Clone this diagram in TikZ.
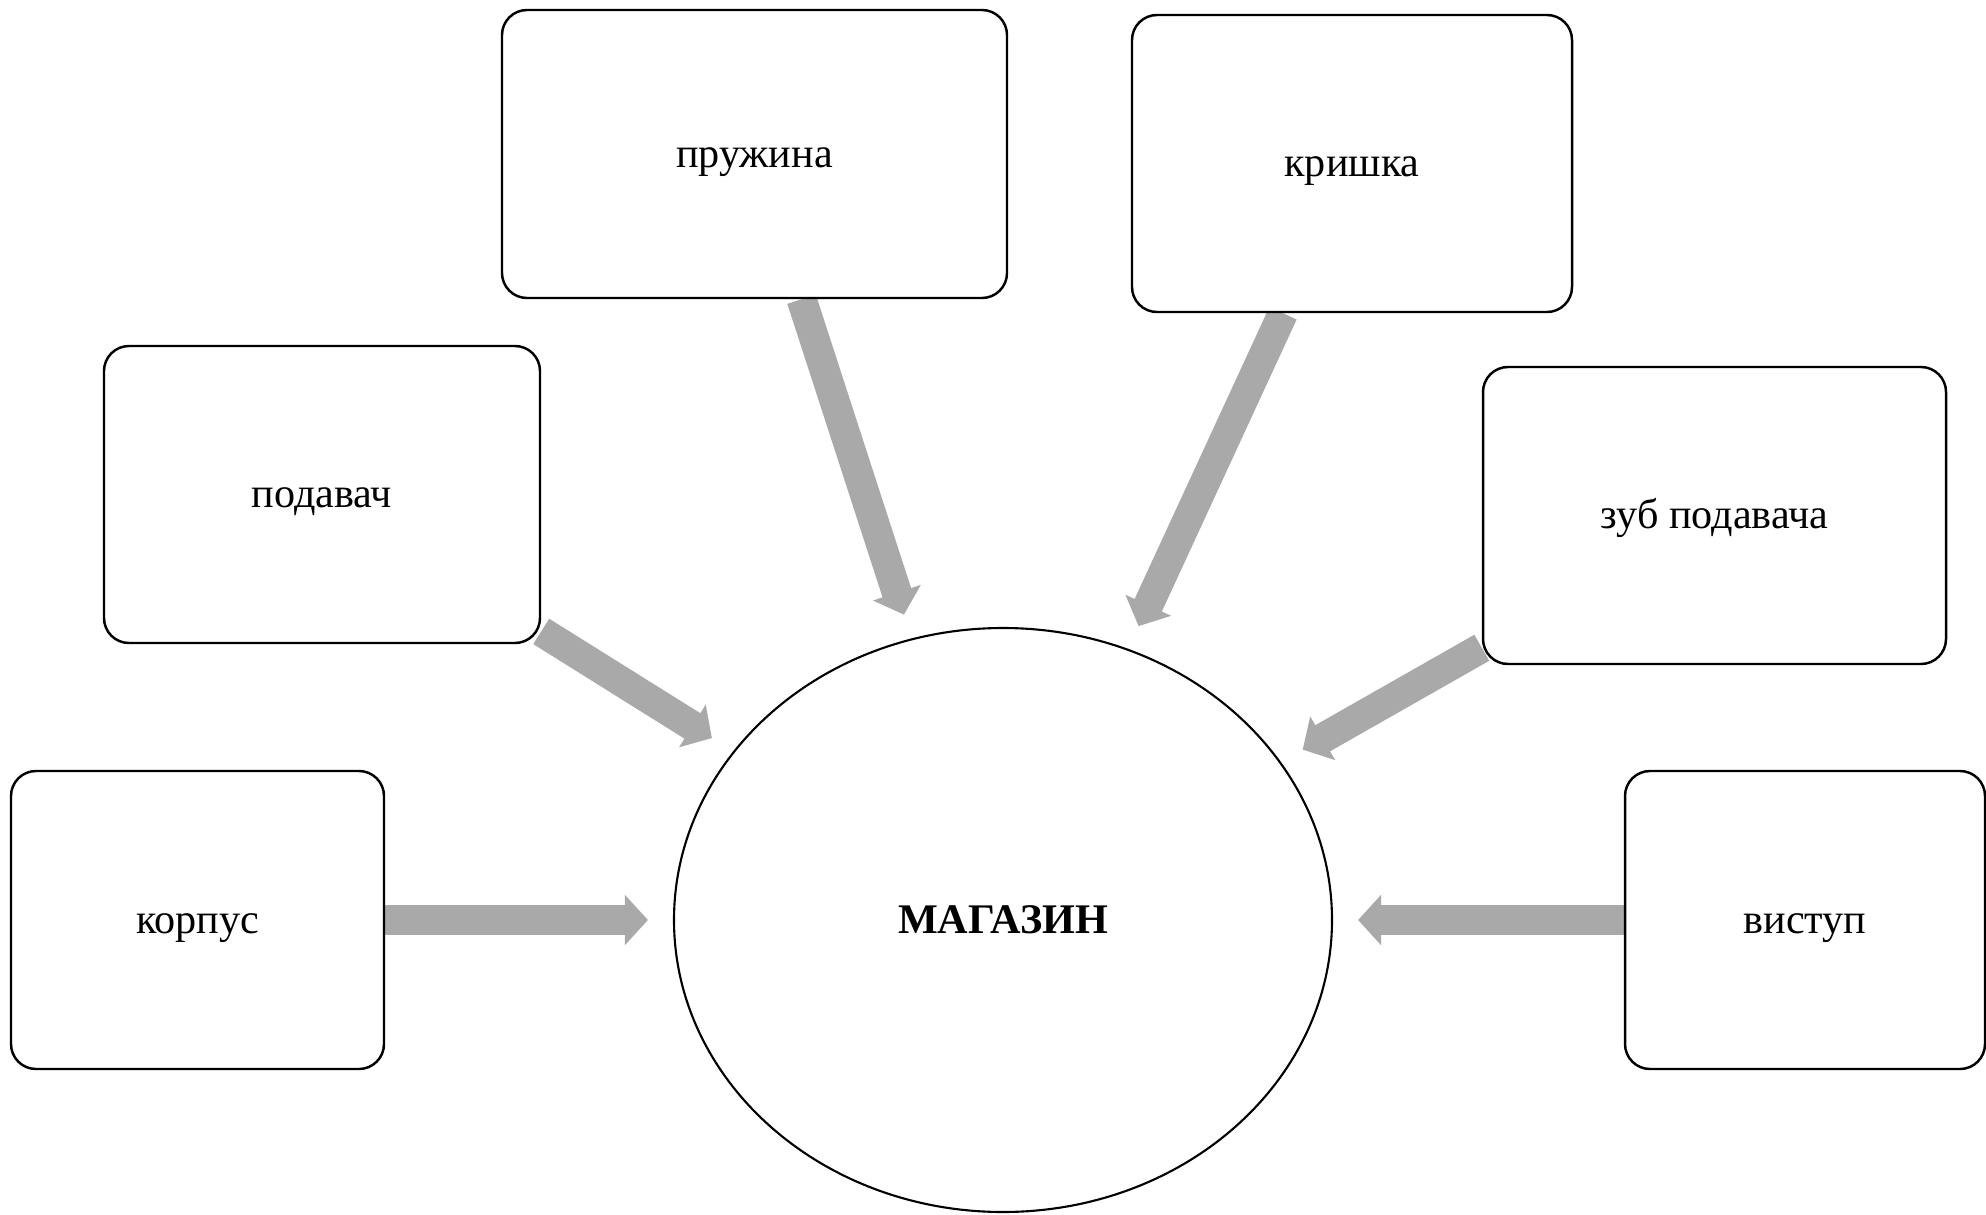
\documentclass[tikz,border=0pt]{standalone}
\usepackage{fontspec}
\setmainfont{Liberation Serif}
\usetikzlibrary{arrows.meta,backgrounds,shapes.geometric}
\definecolor{arrowGray}{RGB}{169,169,169}
\tikzset{
	partBox/.style={rectangle, rounded corners=2.5mm, draw, line width=0.7pt, fill=white, text height=7.4pt, text depth=0pt, font=\fontsize{12}{14}\selectfont},
	feedArrow/.style={draw=arrowGray, line width=3mm, -{Triangle[width=4.9mm,length=2.3mm]}, shorten >=2.5mm}
}
\begin{document}
\begin{tikzpicture}
		
		\useasboundingbox (0,0) rectangle (19.86,12.14);
		
		% Central part
		\node (magazin) at (10.03,2.94) [ellipse, draw, line width=0.6pt, fill=white, inner sep=0pt, minimum width=6.58cm, minimum height=5.84cm, font=\fontsize{12}{14}\selectfont\bfseries]{МАГАЗИН};
		
		% Parts around it
		\node (partKorpus) at (1.975,2.94) [partBox, minimum width=3.73cm, minimum height=2.98cm]{корпус};
		\node (partPodavach) at (3.22,7.195) [partBox, minimum width=4.36cm, minimum height=2.97cm]{подавач};
		\node (partPruzhyna) at (7.545,10.60) [partBox, minimum width=5.05cm, minimum height=2.88cm]{пружина};
		\node (partKryshka) at (13.52,10.505) [partBox, minimum width=4.40cm, minimum height=2.97cm]{кришка};
		\node (partZub) at (17.145,6.985) [partBox, minimum width=4.63cm, minimum height=2.97cm]{зуб подавача};
		\node (partVystup) at (18.05,2.94) [partBox, minimum width=3.60cm, minimum height=2.98cm]{виступ};
		
		% Arrows to the centre
		\begin{pgfonlayer}{background}
		\draw[feedArrow] (partKorpus) -- (magazin);
		\draw[feedArrow] (partPodavach) -- (magazin);
		\draw[feedArrow] (partPruzhyna) -- (magazin);
		\draw[feedArrow] (partKryshka) -- (magazin);
		\draw[feedArrow] (partZub) -- (magazin);
		\draw[feedArrow] (partVystup) -- (magazin);
		\end{pgfonlayer}
		
\end{tikzpicture}
\end{document}
